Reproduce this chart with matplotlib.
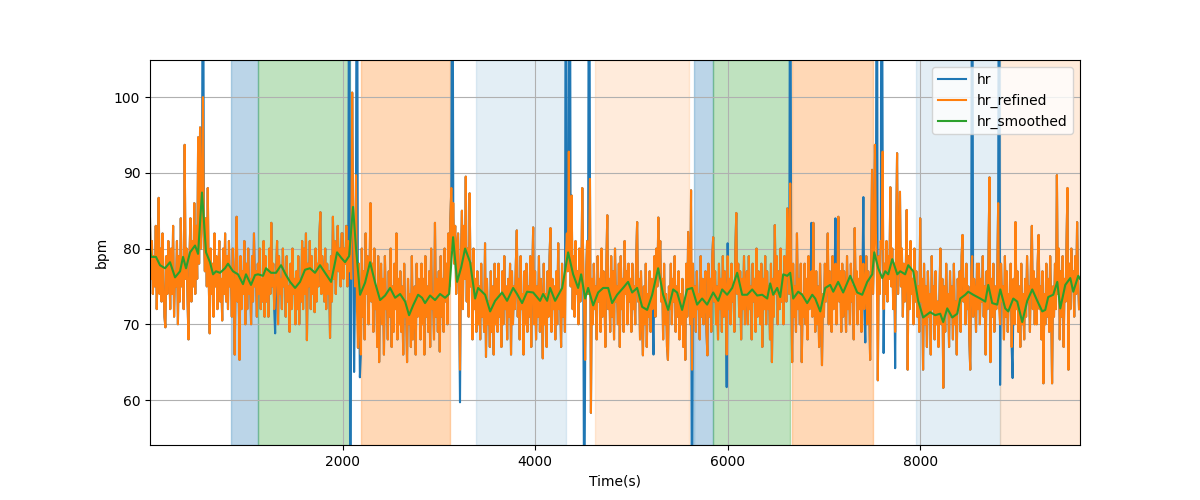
import numpy as np
import matplotlib
matplotlib.use("Agg")
import matplotlib.pyplot as plt

# ===== DATA =====
STEP = 10  # seconds between hr samples

hr_refined = [
    84, 76, 81, 74, 79, 75, 83, 72, 78, 86.7, 74, 80, 73, 82, 76, 71, 69.6, 79, 74, 81,
    78, 72, 80, 74, 83, 71, 77, 75, 81, 70, 79, 73, 84, 75, 78, 72, 93.7, 76, 80, 73,
    68, 79, 84, 73, 81, 75, 86, 74, 83, 76, 94.7, 78, 96, 80, 85, 100, 82, 77, 84, 75,
    88, 76, 68.8, 80, 74, 78, 71, 82, 75, 79, 72, 77, 81, 73, 76, 70.5, 80, 74, 82, 73,
    79, 72, 81, 75, 77, 71, 80, 74, 66, 78, 84.2, 73, 76, 65.3, 79, 72, 77, 74, 81, 70,
    78, 72, 80, 74, 76, 70, 79, 73, 82, 75, 77, 71, 78, 74, 80, 72, 76, 73, 81, 71,
    79, 73, 77, 71, 80, 74, 83.4, 75, 78, 72, 74, 77, 81, 70, 79, 74, 76, 72, 80, 75,
    77, 71, 79, 73, 75, 69, 78, 72, 80, 74, 76, 70, 77, 72, 79, 70, 76, 73, 81, 72,
    80, 74, 82, 67.9, 78, 75, 81, 72, 79, 74, 77, 71.6, 80, 73, 78, 75, 82, 84.8, 74, 79,
    76, 73, 80, 72, 78, 74, 77, 68.2, 79, 73, 84.2, 76, 81, 74, 79, 83, 77, 80, 75, 82,
    82, 76, 80, 78, 83, 75, 81, 77, 79, 76, 100.6, 84, 80, 75, 89.7, 72, 66.9, 78, 70, 66,
    80, 71, 77, 68, 82, 74, 79, 70, 76, 86, 73, 78, 69, 80, 72, 75, 67, 79, 65, 74,
    78, 70, 76, 66, 79, 72, 74, 68, 77, 71, 80, 67, 75, 69, 78, 72, 82, 68, 76, 70,
    77, 69, 75, 66, 78, 71, 73, 65, 76, 70, 74, 67, 79, 68, 72, 75, 66, 78, 71, 76,
    74, 68, 78, 70, 76, 66, 79, 71, 75, 69, 77, 67, 80, 72, 74, 68, 83.4, 71, 76, 69,
    77, 66.4, 79, 71, 76, 69, 80, 73, 78, 70, 82, 75, 84, 88, 80, 86, 78, 83, 74, 80,
    82, 74, 64, 79, 85, 72, 83, 76, 89.5, 73, 80, 71, 87.3, 75, 78, 68, 80, 72, 76, 69,
    77, 70, 75, 68, 78, 71, 74, 69, 80.7, 65.7, 76, 70, 73, 67, 77, 69, 75, 66, 78, 70,
    76, 69, 78, 71, 74, 67, 77, 70, 79, 72, 75, 68, 76, 71, 78, 66, 77, 70, 75, 72,
    78, 82.4, 71, 76, 68, 79, 72, 74, 66, 77, 70, 78, 69, 75, 71, 79, 67, 76, 82.8, 70,
    77, 68, 75, 71, 79, 69, 76, 72, 65.5, 78, 70, 74, 67, 77, 71, 79, 82.7, 69, 76, 72,
    75, 68, 77, 70, 80.7, 72, 74, 67, 78, 71, 76, 69, 79, 82, 77, 92.8, 80, 75, 87, 72,
    79, 71, 81, 74, 77, 70, 80, 73, 76, 88, 78, 72, 65.3, 77, 81, 74, 79, 89.2, 58.3, 76,
    70, 78, 72, 75, 68, 79, 73, 76, 69, 80, 71, 77, 74, 67, 78, 84.4, 72, 76, 69, 79,
    71, 77, 68, 80, 73, 75, 70, 78, 67, 79, 72, 76, 69, 81, 74, 77, 70, 78, 73, 76,
    69, 78, 72, 75, 70, 79, 83.5, 73, 76, 68, 77, 71, 65.9, 75, 70, 78, 67, 74, 71, 77,
    69, 76, 72, 74, 79, 71, 80, 75, 84.1, 77, 81, 73, 76, 68, 78, 70, 74, 67, 65.3, 75,
    72, 78, 70, 76, 73, 79, 69, 75, 71, 77, 68, 74, 70, 76, 67, 73, 65.3, 78, 71, 82.2,
    76, 70, 87.7, 64, 78, 71, 75, 69, 77, 72, 74, 68, 79, 71, 76, 70, 73, 77, 69, 65.9,
    78, 71, 76, 69, 79, 81.5, 73, 77, 70, 75, 68, 78, 72, 76, 69, 79, 71, 77, 74, 66,
    79, 72, 76, 70, 78, 73, 75, 69, 80, 84.7, 74, 78, 71, 77, 68, 76, 72, 79, 70, 75,
    77, 70, 79, 72, 75, 68, 78, 73, 76, 69, 80, 71, 77, 74, 70, 78, 67, 76, 72, 79,
    70, 77, 72, 75, 68, 78, 65, 76, 71, 83.1, 74, 79, 70, 77, 72, 80, 73, 76, 70, 79,
    77, 73, 85.3, 79, 74, 88.6, 76, 65, 78, 71, 75, 69, 82, 72, 76, 70, 78, 65, 74, 71,
    78, 70, 76, 68, 79, 72, 75, 77, 71, 83.4, 74, 69, 77, 70, 75, 67, 78, 72, 64.6, 74,
    71, 78, 73, 76, 82, 70, 77, 74, 69, 79, 72, 76, 78, 70, 75, 84.2, 73, 77, 69, 78,
    71, 77, 74, 69, 79, 72, 76, 70, 78, 73, 75, 68, 82.7, 74, 77, 70, 76, 72, 79, 69,
    76, 78, 72, 75, 79, 70, 77, 73, 65.3, 78, 90.4, 74, 80, 93.7, 82, 76, 62.6, 79, 74, 81,
    80, 92.8, 72, 78, 74, 81, 73, 79, 76, 88.1, 75, 80, 72, 78, 69, 82, 92.6, 74, 79, 87.5,
    75, 80, 71, 78, 73, 77, 85.1, 64, 79, 72, 81, 74, 76, 70, 80, 73, 77, 71, 75, 69,
    84, 73, 76, 64, 78, 70, 75, 67, 77, 71, 74, 66, 79, 72, 75, 68, 77, 70, 73, 67,
    74, 80, 70, 76, 61.6, 75, 69, 78, 72, 74, 67, 77, 71, 75, 68, 78, 70, 73, 66, 76,
    72, 77, 69, 79, 81.8, 73, 76, 70, 78, 72, 75, 68, 64, 77, 79, 71, 76, 74, 69, 78,
    72, 78, 70, 76, 73, 79, 71, 75, 66, 77, 72, 80, 89.4, 65, 76, 71, 78, 69, 75, 72,
    76, 86, 72, 70, 78, 73, 75, 68, 79, 71, 77, 69, 74, 72, 78, 67, 73, 76, 70, 83.5,
    72, 77, 69, 75, 67, 78, 70, 74, 68, 76, 71, 79, 73, 75, 69, 78, 83, 72, 77, 70,
    76, 70, 78, 81.8, 72, 75, 68, 77, 62.2, 74, 70, 78, 71, 76, 69, 79, 73, 62.2, 75, 71,
    78, 72, 89.7, 74, 80, 68, 77, 71, 79, 67, 76, 73, 81, 88, 64, 78, 72, 80, 75, 77,
    71, 79, 74, 83.5, 76, 72,
]

# raw hr differs from hr_refined only at these outlier samples
hr_spike_t = [550, 1300, 2070, 2080, 2120, 2150, 2180, 3140, 3220, 4320,
              4360, 4510, 4560, 5230, 5630, 5990, 6000, 6650, 6870, 7120,
              7410, 7430, 7550, 7600, 7620, 7740, 8540, 8820, 8830, 8960]
hr_spike_v = [140, 68.8, 140, 30, 63.7, 140, 63, 140, 59.7, 140,
              140, 40, 140, 66, 30, 61.7, 80.7, 140, 83.4, 84,
              86.8, 67.6, 140, 140, 66.2, 64.2, 140, 140, 62, 62.9]

smooth_t = [0, 10, 62, 104, 156, 208, 260, 312, 343, 374, 416, 468, 499, 540,
            582, 623, 655, 686, 727, 779, 810, 862, 914, 966, 997, 1049, 1091,
            1122, 1174, 1205, 1257, 1309, 1361, 1413, 1455, 1507, 1558, 1610,
            1662, 1714, 1766, 1829, 1881, 1943, 1985, 2026, 2068, 2109, 2140,
            2182, 2234, 2286, 2338, 2390, 2442, 2494, 2546, 2598, 2650, 2691,
            2733, 2785, 2826, 2857, 2909, 2961, 3013, 3065, 3107, 3148, 3190,
            3232, 3273, 3325, 3377, 3408, 3481, 3533, 3585, 3657, 3709, 3772,
            3813, 3865, 3917, 3980, 4052, 4083, 4125, 4156, 4208, 4281, 4343,
            4395, 4447, 4478, 4520, 4551, 4603, 4655, 4707, 4759, 4800, 4852,
            4914, 4966, 5008, 5060, 5112, 5164, 5216, 5278, 5330, 5382, 5434,
            5475, 5527, 5579, 5631, 5683, 5735, 5787, 5850, 5902, 5943, 5995,
            6047, 6099, 6151, 6203, 6255, 6307, 6359, 6411, 6442, 6473, 6515,
            6546, 6577, 6619, 6650, 6681, 6733, 6774, 6826, 6879, 6910, 6962,
            7014, 7065, 7097, 7148, 7200, 7273, 7346, 7398, 7450, 7502, 7523,
            7564, 7606, 7637, 7668, 7710, 7762, 7793, 7844, 7876, 7928, 7979,
            8031, 8104, 8156, 8208, 8239, 8281, 8333, 8385, 8416, 8468, 8499,
            8551, 8624, 8676, 8707, 8748, 8800, 8832, 8883, 8915, 8967, 9008,
            9060, 9112, 9164, 9216, 9268, 9299, 9330, 9382, 9424, 9455, 9507,
            9559, 9590, 9642, 9660]
hr_smoothed = [80.0, 78.9, 78.9, 77.8, 77.4, 78.2, 76.2, 77.0, 78.9, 77.4, 79.5,
               80.4, 79.3, 87.4, 79.5, 78.2, 76.6, 77.0, 76.8, 77.4, 78.0, 77.0,
               76.6, 75.3, 76.6, 75.2, 76.5, 76.6, 76.4, 77.4, 76.8, 76.8, 77.8,
               76.5, 75.6, 74.8, 75.6, 77.2, 77.4, 76.8, 77.8, 76.6, 75.6, 79.5,
               78.8, 78.2, 79.0, 85.5, 80.0, 73.9, 75.5, 78.2, 75.5, 73.2, 73.8,
               74.8, 73.5, 74.0, 73.0, 71.2, 72.5, 73.9, 73.5, 72.8, 73.8, 73.2,
               74.0, 73.5, 74.0, 81.5, 75.6, 77.5, 80.0, 78.2, 73.4, 74.8, 73.9,
               71.7, 73.1, 74.2, 73.1, 74.8, 74.0, 72.8, 74.3, 74.2, 73.1, 74.0,
               73.1, 74.8, 73.1, 74.8, 79.5, 76.6, 74.8, 76.6, 73.4, 74.8, 72.5,
               74.2, 74.8, 74.8, 72.8, 73.9, 74.8, 75.6, 74.2, 74.8, 72.3, 71.9,
               73.9, 77.4, 73.9, 71.9, 74.6, 74.2, 71.9, 74.6, 74.8, 72.6, 73.4,
               72.6, 74.2, 73.1, 74.6, 73.9, 74.8, 76.8, 73.9, 73.9, 74.6, 73.8,
               73.9, 73.4, 75.4, 73.9, 74.8, 73.6, 76.6, 76.4, 76.8, 73.4, 74.3,
               73.9, 72.8, 73.9, 73.4, 71.7, 74.8, 75.2, 74.3, 75.6, 74.2, 76.4,
               74.2, 73.9, 75.6, 76.6, 79.5, 77.4, 76.1, 77.0, 76.6, 78.6, 76.6,
               77.0, 76.6, 77.8, 77.0, 73.1, 70.9, 71.6, 71.2, 71.4, 70.3, 72.1,
               70.9, 71.4, 73.4, 73.9, 74.3, 73.9, 73.4, 73.0, 75.2, 72.8, 72.6,
               74.6, 72.1, 71.7, 73.4, 73.0, 70.3, 73.1, 74.6, 73.1, 71.7, 71.9,
               73.6, 73.9, 75.6, 72.1, 75.2, 76.1, 74.3, 76.4, 76.0]

# shaded phases
span_start = [845, 1122, 2192, 3387, 4623, 5655, 5852, 6673, 7958, 8831]
span_end = [1122, 2078, 3117, 4319, 5600, 5852, 6649, 7509, 8831, 9660]
span_color = ['C0', 'C2', 'C1', 'C0', 'C1', 'C0', 'C2', 'C1', 'C0', 'C1']
span_alpha = [0.3, 0.3, 0.3, 0.12, 0.15, 0.3, 0.3, 0.3, 0.12, 0.15]
# ==========================

t = np.arange(len(hr_refined)) * STEP
hr = np.array(hr_refined, dtype=float)
for st, sv in zip(hr_spike_t, hr_spike_v):
    hr[st // STEP] = sv

fig, ax = plt.subplots(figsize=(12, 5), dpi=100)

for s, e, c, a in zip(span_start, span_end, span_color, span_alpha):
    ax.axvspan(s, e, color=c, alpha=a)

ax.plot(t, hr, label='hr')
ax.plot(t, hr_refined, label='hr_refined')
ax.plot(smooth_t, hr_smoothed, label='hr_smoothed')

ax.set_xlim(0, 9660)
ax.set_ylim(54.06, 104.9)
ax.set_xticks([2000, 4000, 6000, 8000])
ax.set_xlabel("Time(s)")
ax.set_ylabel("bpm")
ax.grid(True)
ax.legend(loc='upper right')

fig.savefig("out.png")
